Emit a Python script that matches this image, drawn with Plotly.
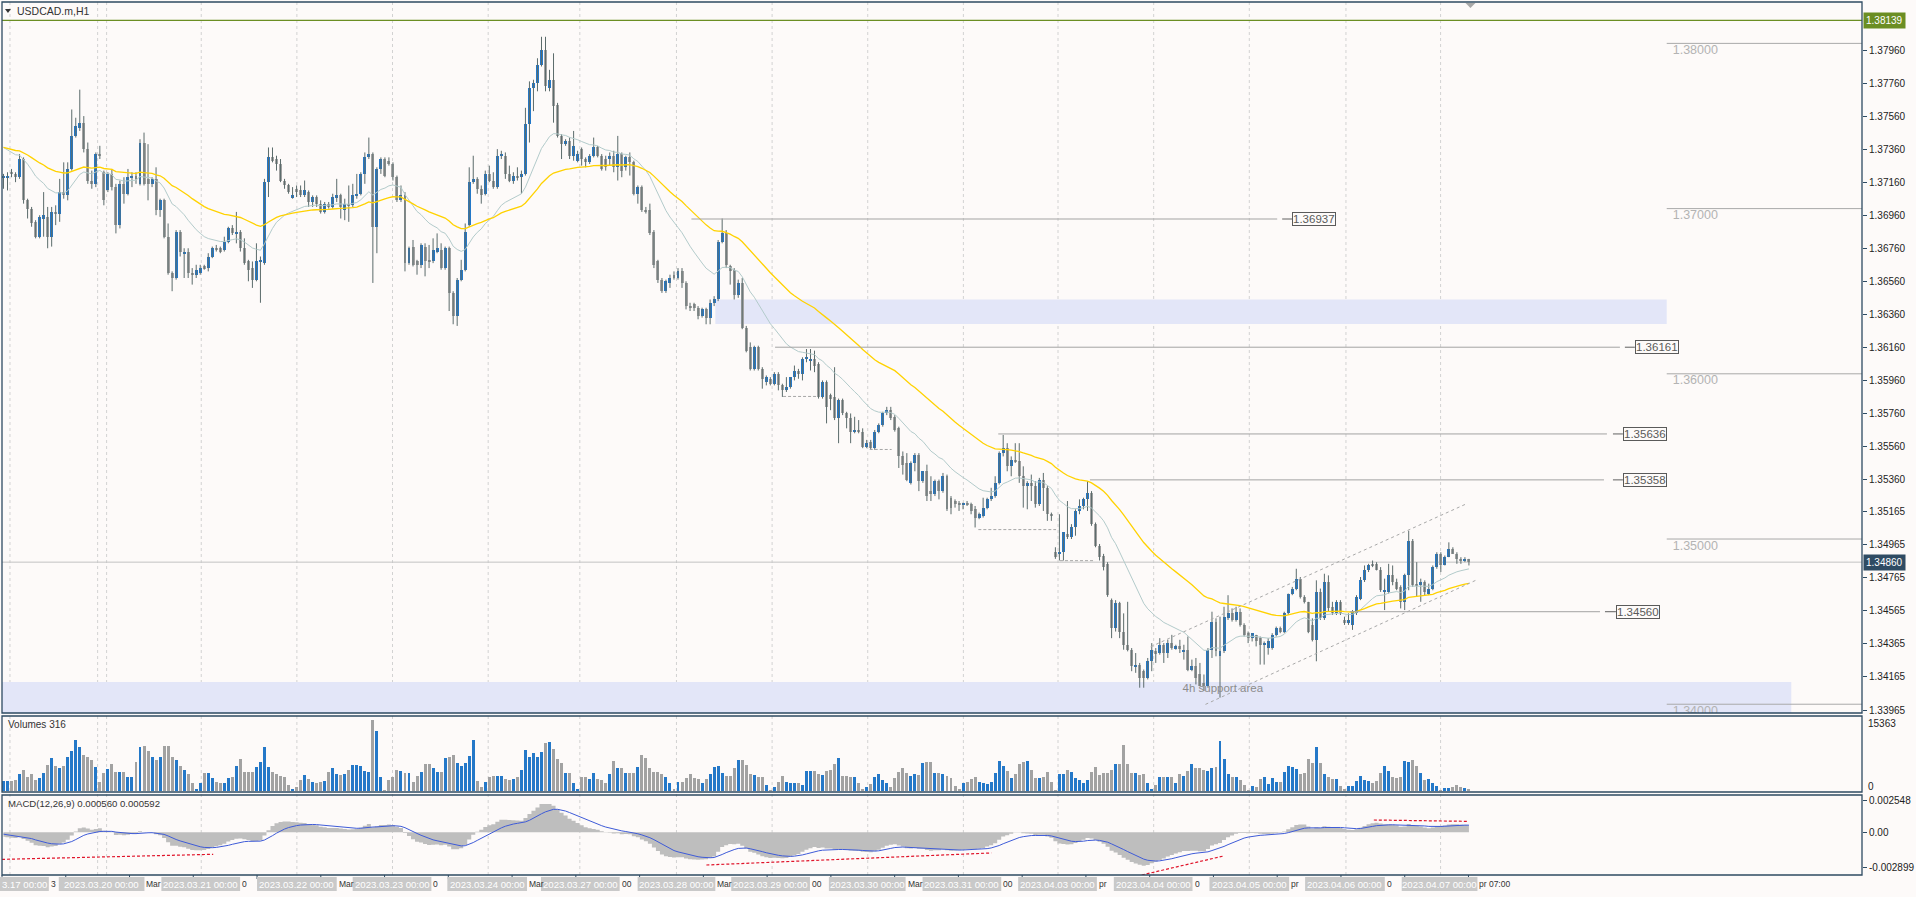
import plotly.graph_objects as go

# ---------------- DATA (prices in pips, 1 pip = 0.0001) ----------------
open_pips = [
13719,13719,13722,13721,13719,13730,13705,13700,13692,13683,
13694,13695,13683,13698,13697,13710,13708,13724,13744,13749,
13752,13736,13717,13715,13733,13722,13711,13721,13713,13690,
13715,13709,13719,13720,13715,13740,13718,13715,13718,13699,
13705,13683,13661,13658,13686,13673,13674,13661,13660,13661,
13665,13664,13671,13676,13676,13675,13680,13688,13685,13686,
13676,13668,13664,13657,13668,13667,13716,13731,13730,13727,
13717,13714,13707,13712,13711,13708,13710,13704,13707,13703,
13698,13703,13701,13707,13708,13699,13703,13702,13708,13709,
13721,13731,13733,13689,13724,13730,13729,13727,13719,13705,
13708,13667,13677,13668,13666,13677,13669,13668,13674,13675,
13664,13676,13649,13635,13657,13663,13690,13716,13718,13712,
13709,13721,13717,13713,13732,13732,13721,13717,13720,13719,
13721,13751,13773,13776,13787,13796,13773,13778,13763,13744,
13739,13741,13732,13729,13736,13730,13728,13732,13737,13732,
13730,13730,13732,13725,13733,13725,13731,13728,13709,13713,
13699,13699,13686,13668,13657,13650,13655,13660,13658,13662,
13655,13641,13642,13640,13635,13639,13634,13643,13645,13680,
13685,13665,13663,13648,13655,13628,13616,13603,13616,13603,
13595,13597,13594,13600,13593,13590,13592,13598,13602,13600,
13609,13608,13609,13606,13586,13595,13587,13586,13573,13584,
13576,13573,13565,13566,13565,13556,13559,13555,13565,13569,
13576,13578,13574,13567,13550,13546,13534,13546,13551,13535,
13541,13529,13527,13535,13529,13538,13525,13523,13522,13521,
13522,13521,13518,13513,13514,13519,13524,13526,13534,13552,
13555,13544,13548,13547,13538,13532,13534,13532,13521,13536,
13531,13515,13492,13491,13492,13503,13501,13507,13517,13520,
13524,13528,13509,13496,13490,13485,13463,13446,13461,13444,
13436,13433,13423,13424,13420,13416,13426,13432,13431,13436,
13431,13437,13434,13435,13432,13433,13421,13423,13418,13413,
13411,13433,13450,13429,13432,13452,13455,13451,13456,13448,
13443,13440,13442,13440,13436,13434,13434,13442,13446,13444,
13455,13467,13470,13476,13465,13462,13448,13439,13468,13452,
13474,13459,13455,13462,13451,13449,13448,13455,13464,13475,
13481,13485,13485,13481,13468,13468,13478,13474,13471,13462,
13478,13499,13473,13472,13474,13467,13470,13483,13491,13484,
13489,13494,13491,13488,13487,13488]

high_pips = [
13721,13722,13724,13722,13733,13731,13706,13701,13693,13696,
13710,13701,13701,13702,13718,13728,13728,13760,13755,13772,
13756,13740,13723,13734,13738,13723,13722,13724,13715,13717,
13719,13724,13722,13722,13742,13746,13739,13719,13725,13706,
13706,13691,13662,13687,13687,13676,13676,13664,13666,13666,
13666,13673,13677,13678,13677,13683,13689,13690,13698,13687,
13682,13669,13668,13679,13671,13718,13737,13737,13732,13730,
13718,13715,13713,13714,13714,13717,13711,13708,13708,13705,
13704,13704,13709,13718,13709,13706,13714,13715,13721,13722,
13734,13743,13734,13725,13731,13731,13731,13728,13720,13714,
13710,13677,13681,13669,13679,13679,13678,13682,13685,13679,
13677,13677,13650,13658,13669,13691,13725,13732,13719,13714,
13723,13726,13722,13736,13735,13734,13726,13722,13725,13723,
13761,13777,13778,13791,13804,13804,13784,13794,13764,13745,
13742,13743,13747,13735,13737,13731,13733,13743,13738,13733,
13732,13734,13735,13744,13734,13732,13734,13729,13714,13714,
13701,13703,13687,13669,13658,13657,13660,13662,13664,13664,
13656,13643,13643,13641,13640,13640,13645,13647,13681,13694,
13687,13666,13664,13657,13658,13629,13619,13617,13617,13604,
13599,13598,13601,13601,13594,13598,13598,13605,13603,13610,
13615,13615,13614,13607,13596,13596,13588,13604,13585,13585,
13577,13576,13574,13572,13567,13560,13560,13566,13570,13577,
13580,13580,13575,13568,13553,13552,13547,13552,13552,13541,
13545,13538,13536,13536,13540,13539,13526,13524,13523,13522,
13523,13522,13520,13516,13525,13525,13531,13538,13553,13563,
13558,13550,13558,13558,13544,13535,13539,13535,13537,13540,
13532,13516,13495,13515,13504,13523,13509,13518,13524,13525,
13535,13529,13510,13497,13491,13486,13464,13463,13462,13455,
13462,13434,13431,13425,13421,13428,13437,13434,13440,13437,
13439,13442,13436,13439,13436,13441,13427,13428,13425,13418,
13434,13456,13452,13453,13459,13466,13458,13459,13458,13449,
13444,13443,13442,13441,13438,13440,13443,13447,13447,13456,
13467,13471,13482,13477,13466,13462,13452,13475,13470,13479,
13478,13462,13463,13463,13453,13455,13457,13466,13477,13484,
13485,13487,13486,13483,13476,13485,13484,13476,13472,13479,
13505,13500,13486,13476,13475,13473,13484,13492,13492,13490,
13498,13495,13492,13489,13489,13488]

low_pips = [
13712,13711,13719,13716,13718,13703,13694,13689,13682,13682,
13683,13676,13677,13690,13692,13706,13705,13723,13743,13747,
13734,13715,13712,13713,13730,13702,13710,13711,13685,13688,
13703,13708,13713,13715,13714,13714,13705,13713,13696,13695,
13682,13660,13650,13657,13671,13658,13658,13654,13658,13660,
13663,13662,13670,13674,13673,13674,13679,13684,13679,13674,
13666,13656,13652,13656,13643,13666,13707,13728,13723,13716,
13712,13709,13706,13707,13707,13707,13701,13701,13701,13697,
13697,13700,13700,13704,13694,13693,13692,13701,13706,13708,
13715,13730,13655,13673,13721,13719,13726,13717,13704,13704,
13662,13666,13665,13660,13664,13659,13664,13667,13673,13663,
13663,13638,13630,13629,13656,13662,13689,13715,13709,13703,
13708,13716,13712,13712,13730,13718,13716,13715,13717,13709,
13720,13740,13759,13771,13786,13771,13771,13752,13743,13730,
13738,13730,13729,13728,13726,13725,13727,13731,13731,13723,
13723,13726,13722,13717,13719,13723,13720,13708,13703,13698,
13697,13684,13664,13655,13649,13649,13652,13657,13657,13652,
13639,13638,13638,13633,13634,13630,13630,13641,13644,13679,
13664,13654,13645,13646,13627,13613,13602,13602,13602,13591,
13593,13593,13593,13590,13586,13589,13591,13596,13597,13596,
13607,13602,13601,13585,13585,13570,13578,13572,13558,13575,
13567,13558,13564,13564,13555,13555,13554,13554,13564,13568,
13575,13572,13565,13543,13539,13535,13533,13541,13529,13534,
13523,13523,13526,13524,13528,13517,13515,13519,13517,13518,
13520,13515,13507,13512,13513,13518,13523,13525,13533,13550,
13541,13538,13546,13534,13519,13518,13523,13519,13520,13517,
13511,13511,13488,13487,13487,13500,13500,13502,13515,13518,
13517,13508,13495,13487,13481,13465,13440,13444,13440,13433,
13432,13420,13419,13410,13410,13415,13420,13425,13430,13425,
13428,13433,13433,13431,13427,13420,13420,13412,13411,13408,
13410,13428,13429,13404,13431,13451,13450,13450,13447,13441,
13437,13438,13435,13424,13424,13430,13433,13441,13443,13443,
13454,13466,13469,13464,13461,13443,13438,13426,13451,13451,
13456,13454,13454,13454,13448,13448,13445,13454,13463,13474,
13480,13483,13481,13468,13457,13467,13472,13469,13458,13457,
13469,13471,13465,13462,13466,13466,13469,13482,13480,13484,
13489,13491,13485,13485,13486,13484]

close_pips = [
13720,13720,13721,13719,13730,13705,13700,13691,13683,13695,
13696,13683,13698,13697,13710,13708,13724,13744,13750,13752,
13736,13717,13715,13733,13732,13705,13721,13713,13690,13715,
13709,13719,13720,13718,13740,13715,13715,13718,13699,13705,
13683,13661,13658,13686,13674,13674,13661,13660,13663,13664,
13664,13671,13676,13675,13674,13680,13688,13685,13686,13676,
13667,13663,13657,13668,13669,13716,13731,13729,13727,13717,
13714,13710,13708,13710,13708,13711,13704,13707,13703,13698,
13703,13701,13707,13708,13701,13703,13702,13708,13709,13721,
13731,13733,13689,13724,13730,13720,13727,13719,13705,13708,
13667,13676,13666,13666,13678,13668,13668,13675,13676,13664,
13676,13649,13635,13657,13663,13686,13716,13718,13712,13708,
13721,13717,13713,13732,13733,13721,13717,13720,13719,13721,
13751,13773,13776,13787,13796,13774,13778,13762,13744,13739,
13741,13732,13738,13733,13730,13728,13732,13737,13732,13724,
13725,13732,13725,13733,13723,13731,13728,13709,13713,13699,
13698,13685,13666,13657,13650,13656,13658,13658,13662,13655,
13641,13640,13640,13635,13639,13634,13643,13645,13680,13685,
13666,13662,13648,13655,13628,13614,13603,13616,13603,13597,
13598,13594,13600,13593,13590,13592,13598,13602,13600,13609,
13609,13609,13605,13586,13595,13580,13585,13573,13584,13576,
13573,13565,13566,13565,13556,13558,13555,13565,13569,13576,
13578,13573,13566,13550,13545,13536,13546,13551,13535,13541,
13526,13527,13535,13529,13538,13518,13519,13521,13521,13522,
13521,13517,13513,13515,13519,13524,13526,13534,13552,13555,
13544,13548,13547,13538,13532,13534,13532,13521,13536,13531,
13515,13514,13489,13492,13504,13501,13507,13517,13520,13524,
13528,13509,13496,13489,13483,13466,13446,13461,13444,13436,
13433,13423,13424,13416,13416,13426,13433,13431,13436,13431,
13437,13434,13435,13434,13433,13421,13423,13416,13411,13411,
13433,13450,13432,13432,13453,13455,13451,13456,13448,13442,
13440,13443,13438,13436,13437,13438,13442,13446,13444,13455,
13467,13470,13476,13465,13462,13444,13439,13468,13452,13474,
13458,13455,13462,13455,13449,13451,13456,13465,13475,13481,
13484,13484,13481,13469,13469,13478,13474,13470,13462,13478,
13499,13472,13472,13474,13468,13470,13483,13491,13484,13489,
13494,13491,13488,13487,13488,13486]

volumes = [
2160,2160,2160,2376,3672,4536,3096,3672,2376,2880,3816,
5616,7128,5472,5040,5472,7416,8640,11016,9576,7776,
7416,6696,5256,2016,3816,4680,5832,4104,4104,4104,
3096,3096,6264,9432,9720,8640,7416,6696,7416,9720,
9720,7272,6696,5400,4536,3672,1656,360,1656,3816,
3816,2736,2016,1656,1656,2736,3096,5472,6840,4104,
4104,4104,5256,6336,9576,5256,4104,3672,3240,3096,
1296,360,936,2376,3456,2520,2016,1656,2016,2160,
4176,5040,3672,3456,3672,4536,5616,5616,5472,4248,
4176,15336,12960,3096,216,2376,3096,4536,4392,3816,
3816,2016,3240,4176,5832,5832,4896,4176,4176,7056,
7416,7776,5976,5472,6120,7632,11016,2160,936,2016,
3096,3240,3312,3240,2520,2376,2520,3096,4536,8856,
7416,8280,7272,8496,10440,10584,9000,6984,6120,3960,
3960,1656,360,3096,2952,2520,3816,2520,2376,1656,
3672,6480,4896,5040,3960,3816,3816,
5256,7776,7056,4896,4176,4176,3672,3096,1656,360,
2016,2016,2880,3672,2736,2520,1656,2520,3672,5256,
5472,3960,3240,3240,4896,6696,6696,5616,3672,3456,
3096,3096,1296,72,936,2016,3240,2016,1800,1800,
1800,1296,4320,4320,4320,3672,3456,4320,4536,5832,
7056,3240,3240,3096,3096,1656,360,936,1512,3096,
3672,2376,1656,936,2736,4032,5040,3816,3312,3672,
3456,5976,6192,6336,3960,3960,3672,3240,2736,1080,
360,1656,2016,2520,3096,2016,1656,1512,2016,3816,
6552,5472,4320,2880,3672,5832,6192,6480,4536,2736,
2736,2952,4032,2016,72,3600,3600,4536,4176,2736,
2376,1800,2376,4032,5256,3456,3816,3816,4536,5832,
5832,9936,5832,3816,3960,3456,3672,1800,360,1296,
3096,3096,3096,3096,1800,3672,3240,4320,5832,5040,
4896,4536,4320,4896,5256,10800,6840,3672,3096,3096,
2376,1296,72,1080,936,2520,3096,1512,2736,
2016,2016,4176,5400,5112,4824,3672,3960,6840,6120,
9576,6120,3672,3096,2592,2520,1152,360,1080,1080,
2160,3240,2376,2160,1800,2160,3816,5400,4392,3096,
2736,3096,6480,6336,6696,5472,3816,2376,2520,1800,
1080,72,576,720,792,1296,936,576,316]

symbol_title = "USDCAD.m,H1"
price_ticks = [1.37960, 1.37760, 1.37560, 1.37360, 1.37160, 1.36960, 1.36760,
               1.36560, 1.36360, 1.36160, 1.35960, 1.35760, 1.35560, 1.35360,
               1.35165, 1.34965, 1.34765, 1.34565, 1.34365, 1.34165, 1.33965]
round_levels = [1.38000, 1.37000, 1.36000, 1.35000, 1.34000]
marked_levels = [1.36937, 1.36161, 1.35636, 1.35358, 1.34560]
last_price = 1.34860
top_level = 1.38139
resistance_zone = (1.36302, 1.36450)
support_zone = (1.33900, 1.34135)
support_text = "4h support area"
swing_dashes = [1.35863, 1.35542, 1.35057, 1.34869]
channel_upper = (1.34348, 1.35216)
channel_lower = (1.33999, 1.34752)
macd_tick_values = [0.002548, 0.0, -0.002899]
macd_tick_text = ["0.002548", "0.00", "-0.002899"]
macd_divergence = [(-0.00220, -0.00179), (-0.00266, -0.00168),
                   (-0.00347, -0.00193), (0.00100, 0.00089)]
volume_labels = ["15363", "0"]
last_volume = 316
macd_main_last, macd_signal_last = 0.000560, 0.000592
day_labels = ["3.17 00:00", "2023.03.20 00:00", "2023.03.21 00:00", "2023.03.22 00:00",
              "2023.03.23 00:00", "2023.03.24 00:00", "2023.03.27 00:00",
              "2023.03.28 00:00", "2023.03.29 00:00", "2023.03.30 00:00",
              "2023.03.31 00:00", "2023.04.03 00:00", "2023.04.04 00:00",
              "2023.04.05 00:00", "2023.04.06 00:00", "2023.04.07 00:00"]
axis_fragments = ["3", "Mar", "0", "Mar", "0", "Mar", "00", "Mar", "00", "Mar",
                  "00", "pr", "0", "pr", "0", "pr 07:00"]
ma_fast_seed, ma_slow_seed = 1.37388, 1.37378
ema12_seed, ema26_seed, signal_seed = 1.37310, 1.37340, -0.00010

# ---------------- STYLE / LAYOUT ----------------
W, H = 1916, 897
PL, PR, PT, PB = 2, 1869, 2, 875
BG = "#fdfaf9"
FRAME = "#2e4b62"
UP = "#2478c8"
DN = "#a2a2a2"
WICK = "#5b6b6b"
FONT = "Liberation Sans, Arial, sans-serif"
TXT = "#222222"

BAR0_PX, BAR_PX = 3.5, 4.03


def px_i(p):
    return (p - BAR0_PX) / BAR_PX


def px_x(p):
    return (p - PL) / (PR - PL)


def px_y(q):
    return (PB - q) / (PB - PT)


def price_at(ypx):
    return 1.37960 - (ypx - 50) / 16521.0


n = min(len(open_pips), len(high_pips), len(low_pips), len(close_pips), len(volumes))
PIP = 1e-4
o = [v * PIP for v in open_pips[:n]]
h = [v * PIP for v in high_pips[:n]]
l = [v * PIP for v in low_pips[:n]]
c = [v * PIP for v in close_pips[:n]]
vol = volumes[:n]
idx = list(range(n))


def ema(vals, period, seed):
    k = 2.0 / (period + 1)
    out, prev = [], seed
    for v in vals:
        prev = prev + k * (v - prev)
        out.append(prev)
    return out


ma_fast = ema(c, 20, ma_fast_seed)
ma_slow = ema(c, 50, ma_slow_seed)
e12 = ema(c, 12, ema12_seed)
e26 = ema(c, 26, ema26_seed)
macd = [a - b for a, b in zip(e12, e26)]
signal = ema(macd, 9, signal_seed)

colors = [UP if cc >= oo else DN for oo, cc in zip(o, c)]
base = [min(a, b) for a, b in zip(o, c)]
body = [max(abs(b - a), 0.00006) for a, b in zip(o, c)]
wx, wy = [], []
for i in idx:
    wx += [i, i, None]
    wy += [l[i], h[i], None]

fig = go.Figure()
fig.add_trace(go.Scatter(x=wx, y=wy, mode="lines", line=dict(color=WICK, width=1),
                         hoverinfo="skip", showlegend=False))
fig.add_trace(go.Bar(x=idx, y=body, base=base, width=0.74, marker=dict(color=colors, line=dict(width=0)),
                     hoverinfo="skip", showlegend=False))
fig.add_trace(go.Scatter(x=idx, y=ma_fast, mode="lines", line=dict(color="#b3cbcb", width=1),
                         hoverinfo="skip", showlegend=False))
fig.add_trace(go.Scatter(x=idx, y=ma_slow, mode="lines", line=dict(color="#ffd200", width=1.3),
                         hoverinfo="skip", showlegend=False))

# round level labels and support text (clipped to the price panel)
fig.add_trace(go.Scatter(x=[px_i(1679)] * len(round_levels),
                         y=[lv - 7.5 / 16521.0 for lv in round_levels],
                         text=[f"{lv:.5f}" for lv in round_levels], mode="text",
                         textposition="middle right", cliponaxis=True,
                         textfont=dict(family=FONT, size=12.5, color="#b3b3b3"),
                         hoverinfo="skip", showlegend=False))
fig.add_trace(go.Scatter(x=[px_i(1187)], y=[price_at(689)], text=[support_text], mode="text",
                         textposition="middle right", cliponaxis=True,
                         textfont=dict(family=FONT, size=11.5, color="#8c8c8c"),
                         hoverinfo="skip", showlegend=False))

# volumes
fig.add_trace(go.Bar(x=idx, y=vol, width=0.74, marker=dict(color=colors, line=dict(width=0)),
                     yaxis="y2", hoverinfo="skip", showlegend=False))
# MACD
fig.add_trace(go.Scatter(x=idx, y=macd, mode="lines", line=dict(width=0, shape="hvh"),
                         fill="tozeroy", fillcolor="#bebebe", yaxis="y3",
                         hoverinfo="skip", showlegend=False))
fig.add_trace(go.Scatter(x=idx, y=signal, mode="lines", line=dict(color="#3e5bd8", width=1),
                         yaxis="y3", hoverinfo="skip", showlegend=False))

shapes = []
# zones
shapes.append(dict(type="rect", xref="x", yref="y", x0=px_i(718), x1=px_i(1673),
                   y0=resistance_zone[0], y1=resistance_zone[1], fillcolor="#e3e6f8",
                   line=dict(width=0), layer="below"))
shapes.append(dict(type="rect", xref="x", yref="y", x0=px_i(PL), x1=px_i(1798),
                   y0=support_zone[0], y1=support_zone[1], fillcolor="#e3e6f8",
                   line=dict(width=0), layer="below"))
# day separators
for p in [10, 98, 107, 202, 298, 394, 490, 582, 679, 775, 871, 967, 1062, 1158, 1254, 1351, 1446]:
    shapes.append(dict(type="line", xref="paper", yref="paper", x0=px_x(p), x1=px_x(p),
                       y0=0, y1=px_y(PT), line=dict(color="#d2d2d2", width=1, dash="3px,3px"),
                       layer="below"))
# top & last price lines
shapes.append(dict(type="line", xref="x", yref="y", x0=px_i(PL), x1=px_i(PR), y0=top_level, y1=top_level,
                   line=dict(color="#6b8e23", width=1.2)))
shapes.append(dict(type="line", xref="x", yref="y", x0=px_i(PL), x1=px_i(PR), y0=last_price, y1=last_price,
                   line=dict(color="#c2c2c2", width=1), layer="below"))
# round levels
for lv in round_levels:
    shapes.append(dict(type="line", xref="x", yref="y", x0=px_i(1673), x1=px_i(PR), y0=lv, y1=lv,
                       line=dict(color="#a9a9a9", width=1)))
# marked levels with price tags
level_geom = [(694, 1282, 1287, 1297), (778, 1626, 1631, 1641), (1002, 1613, 1619, 1629),
              (1094, 1610, 1619, 1629), (1355, 1606, 1611, 1622)]
annotations = []
for lv, (x0, x1, t0, b0) in zip(marked_levels, level_geom):
    shapes.append(dict(type="line", xref="x", yref="y", x0=px_i(x0), x1=px_i(x1), y0=lv, y1=lv,
                       line=dict(color="#a3a3a3", width=1)))
    shapes.append(dict(type="line", xref="x", yref="y", x0=px_i(t0), x1=px_i(b0), y0=lv, y1=lv,
                       line=dict(color="#606060", width=1)))
    annotations.append(dict(xref="x", yref="y", x=px_i(b0), y=lv, text=f"{lv:.5f}", showarrow=False,
                            xanchor="left", yanchor="middle", bgcolor=BG, bordercolor="#5a5a5a",
                            borderwidth=1, borderpad=0,
                            font=dict(family=FONT, size=11.5, color="#5a5a5a")))
# swing dashes
for lv, (x0, x1) in zip(swing_dashes, [(786, 820), (873, 895), (982, 1060), (1064, 1099)]):
    shapes.append(dict(type="line", xref="x", yref="y", x0=px_i(x0), x1=px_i(x1), y0=lv, y1=lv,
                       line=dict(color="#a6a6a6", width=1, dash="3px,2px")))
# channel
shapes.append(dict(type="line", xref="x", yref="y", x0=px_i(1155), x1=px_i(1473),
                   y0=channel_upper[0], y1=channel_upper[1],
                   line=dict(color="#a8a8a8", width=1, dash="3px,3px")))
shapes.append(dict(type="line", xref="x", yref="y", x0=px_i(1210), x1=px_i(1482),
                   y0=channel_lower[0], y1=channel_lower[1],
                   line=dict(color="#a8a8a8", width=1, dash="3px,3px")))
# MACD divergence lines
for (v0, v1), (x0, x1) in zip(macd_divergence, [(2, 214), (709, 995), (1146, 1228), (1379, 1473)]):
    shapes.append(dict(type="line", xref="x", yref="y3", x0=px_i(x0), x1=px_i(x1), y0=v0, y1=v1,
                       line=dict(color="#e0142a", width=1.2, dash="3px,2px")))
# panel frames
for (t, b) in [(PT, 713), (716, 792), (795, PB)]:
    shapes.append(dict(type="rect", xref="paper", yref="paper", x0=0, x1=1, y0=px_y(b), y1=px_y(t),
                       line=dict(color=FRAME, width=1.3), fillcolor="rgba(0,0,0,0)", layer="above"))
# time axis ticks
for k in range(24):
    p = 2 + 64 * k
    shapes.append(dict(type="line", xref="paper", yref="paper", x0=px_x(p), x1=px_x(p),
                       y0=px_y(PB), y1=px_y(PB + 4), line=dict(color=FRAME, width=1)))
# shift marker and title triangle
shapes.append(dict(type="path", xref="paper", yref="paper",
                   path=f"M {px_x(1471)} {px_y(3)} L {px_x(1481)} {px_y(3)} L {px_x(1476)} {px_y(8)} Z",
                   fillcolor="#a8a8a8", line=dict(width=0)))
shapes.append(dict(type="path", xref="paper", yref="paper",
                   path=f"M {px_x(5)} {px_y(9)} L {px_x(11)} {px_y(9)} L {px_x(8)} {px_y(13)} Z",
                   fillcolor="#333333", line=dict(width=0)))

# texts
annotations.append(dict(xref="paper", yref="paper", x=px_x(15), y=px_y(11), text=symbol_title,
                        showarrow=False, xanchor="left", yanchor="middle",
                        font=dict(family=FONT, size=10.5, color="#333333")))
annotations.append(dict(xref="paper", yref="paper", x=px_x(6), y=px_y(724), text=f"Volumes {last_volume}",
                        showarrow=False, xanchor="left", yanchor="middle",
                        font=dict(family=FONT, size=10, color="#333333")))
annotations.append(dict(xref="paper", yref="paper", x=px_x(6), y=px_y(803),
                        text=f"MACD(12,26,9) {macd_main_last:.6f} {macd_signal_last:.6f}",
                        showarrow=False, xanchor="left", yanchor="middle",
                        font=dict(family=FONT, size=9.6, color="#333333")))
for txt, yy in zip(volume_labels, [723, 786]):
    annotations.append(dict(xref="paper", yref="paper", x=px_x(1873), y=px_y(yy), text=txt,
                            showarrow=False, xanchor="left", yanchor="middle",
                            font=dict(family=FONT, size=10, color=TXT)))
# price tags on the axis
annotations.append(dict(xref="paper", yref="y", x=px_x(1870), y=top_level, text=f"{top_level:.5f}",
                        showarrow=False, xanchor="left", yanchor="middle", bgcolor="#6b8e23",
                        borderpad=2, font=dict(family=FONT, size=10, color="white")))
annotations.append(dict(xref="paper", yref="y", x=px_x(1870), y=last_price, text=f"{last_price:.5f}",
                        showarrow=False, xanchor="left", yanchor="middle", bgcolor="#2f4b63",
                        borderpad=2, font=dict(family=FONT, size=10, color="white")))
# time axis labels
boxes = [(0, 49), (59, 145), (162, 241), (258, 338), (354, 433), (449, 529), (543, 622),
         (640, 718), (734, 813), (832, 909), (926, 1005), (1022, 1101), (1118, 1197),
         (1214, 1294), (1310, 1390), (1407, 1483)]
for (b0, b1), txt, frag in zip(boxes, day_labels, axis_fragments):
    annotations.append(dict(xref="paper", yref="paper", x=px_x(b1), y=px_y(884), text=frag,
                            showarrow=False, xanchor="left", yanchor="middle",
                            font=dict(family=FONT, size=8.5, color="#333333")))
    shapes.append(dict(type="rect", xref="paper", yref="paper", x0=px_x(b0), x1=px_x(b1),
                       y0=px_y(891), y1=px_y(877), fillcolor="#c9c9c9", line=dict(width=0)))
    annotations.append(dict(xref="paper", yref="paper", x=px_x((b0 + b1) / 2 if b0 > 0 else 0),
                            y=px_y(884), text=txt, showarrow=False,
                            xanchor="center" if b0 > 0 else "left", yanchor="middle",
                            font=dict(family=FONT, size=9.6, color="white")))

fig.update_layout(
    width=W, height=H, autosize=False,
    margin=dict(l=PL, r=W - PR, t=PT, b=H - PB, pad=0),
    paper_bgcolor=BG, plot_bgcolor=BG,
    barmode="overlay", bargap=0, hovermode=False, showlegend=False,
    font=dict(family=FONT, size=10, color=TXT),
    xaxis=dict(range=[px_i(PL), px_i(PR)], anchor="y3", showgrid=False, zeroline=False,
               showticklabels=False, ticks="", showline=False, fixedrange=True),
    yaxis=dict(domain=[px_y(713), 1.0], range=[price_at(713), price_at(PT)], anchor="x", side="right",
               tickvals=price_ticks, ticktext=[f"{t:.5f}" for t in price_ticks],
               ticks="outside", ticklen=4, tickcolor=FRAME, tickfont=dict(size=10, color=TXT),
               showgrid=False, zeroline=False, showline=False, fixedrange=True),
    yaxis2=dict(domain=[px_y(792), px_y(716)], range=[-216, 16200], anchor="x",
                visible=False, fixedrange=True),
    yaxis3=dict(domain=[0, px_y(795)], range=[-0.003472, 0.003032], anchor="x", side="right",
                tickvals=macd_tick_values, ticktext=macd_tick_text,
                ticks="outside", ticklen=4, tickcolor=FRAME, tickfont=dict(size=10, color=TXT),
                showgrid=False, zeroline=False, showline=False, fixedrange=True),
    shapes=shapes, annotations=annotations,
)

fig.write_html("out.html", config={"displayModeBar": False},
               post_script="document.body.style.margin='0';document.body.style.overflow='hidden';")
